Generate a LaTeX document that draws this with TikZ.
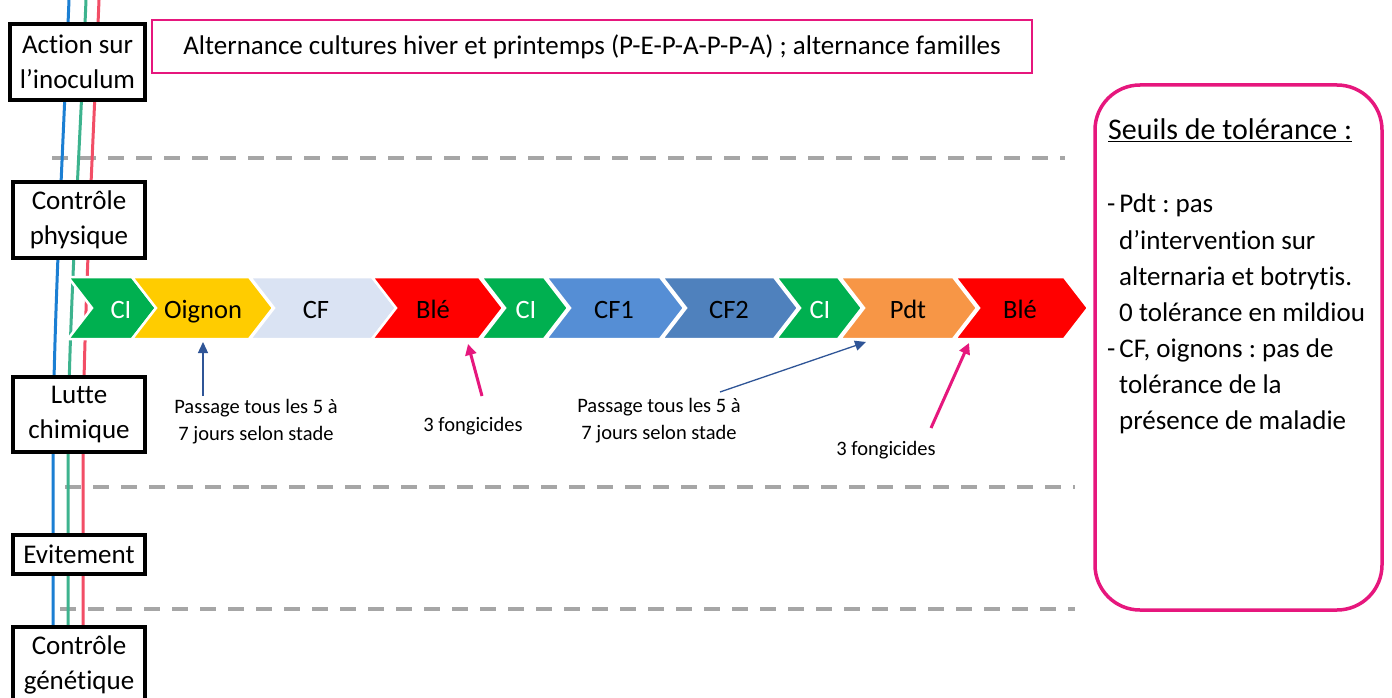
\documentclass[tikz,border=0pt]{standalone}
\usepackage{fontspec}
\setmainfont{Carlito}[Ligatures=CommonOff]
\usetikzlibrary{arrows.meta}
\definecolor{pinkc}{HTML}{E6177D}
\definecolor{lineblue}{HTML}{1B7FD3}
\definecolor{linegreen}{HTML}{3DB38E}
\definecolor{linered}{HTML}{F24E66}
\definecolor{dashgray}{HTML}{A6A6A6}
\definecolor{cgreen}{HTML}{00B050}
\definecolor{cyellow}{HTML}{FFCC00}
\definecolor{clight}{HTML}{DAE3F3}
\definecolor{cred}{HTML}{FF0000}
\definecolor{cblue1}{HTML}{558ED5}
\definecolor{cblue2}{HTML}{4F81BD}
\definecolor{corange}{HTML}{F79646}
\definecolor{arrblue}{HTML}{2F5597}
\newcommand{\chev}[3]{\filldraw[fill=#3, draw=white, line width=2.5pt, line join=miter] (#1,277) -- (#2,277) -- ({#2+24},308) -- (#2,339) -- (#1,339) -- ({#1+24},308) -- cycle;}
\tikzset{
  lbox/.style={draw=black, line width=3.5pt, fill=white, inner sep=0pt, align=center, font=\fontsize{27}{35}\selectfont},
  dashline/.style={draw=dashgray, line width=3.5pt, dash pattern=on 16pt off 12pt},
  vline/.style={line width=3pt},
  clabel/.style={font=\fontsize{26.5}{30}\selectfont, inner sep=0pt, anchor=base},
  annot/.style={font=\fontsize{20.5}{27}\selectfont, align=center, inner sep=0pt},
  rtext/.style={font=\fontsize{27}{36}\selectfont, anchor=base west, inner sep=0pt},
  bluearrow/.style={draw=arrblue, line width=1.3pt, -{Triangle[length=11pt,width=10pt]}},
  pinkarrow/.style={draw=pinkc, line width=3pt, -{Triangle[length=11pt,width=11pt]}}
}
\frenchspacing
\begin{document}
\frenchspacing
\begin{tikzpicture}[x=1pt,y=-1pt]
\useasboundingbox (0,0) rectangle (1392,698);
\fill[white] (0,0) rectangle (1392,698);
\clip (0,0) rectangle (1392,698);
% dashed separators
\draw[dashline] (52,158) -- (1065,158);
\draw[dashline] (65,487) -- (1075,487);
\draw[dashline] (60,609) -- (1075,609);
% coloured lines
\draw[vline, lineblue] (69,0) .. controls (63,150) and (53,330) .. (53,460) -- (53,700);
\draw[vline, linegreen] (86,0) .. controls (80,150) and (68,330) .. (68,460) -- (68,700);
\draw[vline, linered] (99,0) .. controls (93,150) and (83,330) .. (83,460) -- (83,700);
% left boxes
\node[lbox, minimum width=135pt, minimum height=76pt] (b1) at (77.5,62) {Action sur\\l’inoculum};
\node[lbox, minimum width=132pt, minimum height=76pt] (b2) at (79,220) {Contrôle\\physique};
\node[lbox, minimum width=132pt, minimum height=75pt] (b3) at (79,414.5) {Lutte\\chimique};
\node[lbox, minimum width=132pt, minimum height=39pt] (b4) at (79,554.5) {Evitement};
\node[lbox, minimum width=132pt, minimum height=76pt] (b5) at (79,665) {Contrôle\\génétique};
% top box
\node[draw=pinkc, line width=2.5pt, minimum width=880pt, minimum height=53pt, inner sep=0pt, font=\fontsize{27}{30}\selectfont] (top) at (592,46.5) {Alternance cultures hiver et printemps (P-E-P-A-P-P-A) ; alternance familles};
% chevrons
\chev{68}{132}{cgreen}
\chev{132}{249}{cyellow}
\chev{250}{372}{clight}
\chev{372}{479}{cred}
\chev{481}{544}{cgreen}
\chev{546}{660}{cblue1}
\chev{662}{774}{cblue2}
\chev{776}{838}{cgreen}
\chev{840}{953}{corange}
\chev{955}{1064}{cred}
\node[clabel, text=white] (c1) at (121,318) {CI};
\node[clabel] (c2) at (203,318) {Oignon};
\node[clabel] (c3) at (316,318) {CF};
\node[clabel] (c4) at (433,318) {Blé};
\node[clabel, text=white] (c5) at (526,318) {CI};
\node[clabel] (c6) at (614,318) {CF1};
\node[clabel] (c7) at (729,318) {CF2};
\node[clabel, text=white] (c8) at (820,318) {CI};
\node[clabel] (c9) at (908,318) {Pdt};
\node[clabel] (c10) at (1020,318) {Blé};
% annotations
\node[annot] (p1) at (256,422) {Passage tous les 5 à\\7 jours selon stade};
\node[annot] (f1) at (473,426) {3 fongicides};
\node[annot] (p2) at (659,421) {Passage tous les 5 à\\7 jours selon stade};
\node[annot] (f2) at (886,450) {3 fongicides};
\coordinate (a1s) at (203,396);
\coordinate (a1e) at (203,342);
\coordinate (a2s) at (482,396);
\coordinate (a2e) at (468,344);
\coordinate (a3s) at (720,392);
\coordinate (a3e) at (866,342);
\coordinate (a4s) at (931,428);
\coordinate (a4e) at (969,343);
\draw[bluearrow] (a1s) -- (a1e);
\draw[pinkarrow] (a2s) -- (a2e);
\draw[bluearrow] (a3s) -- (a3e);
\draw[pinkarrow] (a4s) -- (a4e);
% right box
\draw[draw=pinkc, line width=3.5pt, rounded corners=45pt] (1095,85) rectangle (1382,610);
\node[rtext, font=\fontsize{30}{36}\selectfont] (r0) at (1108,140) {\underline{Seuils de tolérance :}};
\node[rtext] (r1) at (1107,212) {-\hspace{4pt}Pdt : pas};
\node[rtext] (r2) at (1119,249) {d’intervention sur};
\node[rtext] (r3) at (1119,285) {alternaria et botrytis.};
\node[rtext] (r4) at (1119,321) {0 tolérance en mildiou};
\node[rtext] (r5) at (1107,357) {-\hspace{4pt}CF, oignons : pas de};
\node[rtext] (r6) at (1119,393) {tolérance de la};
\node[rtext] (r7) at (1119,429) {présence de maladie};
\end{tikzpicture}
\end{document}
